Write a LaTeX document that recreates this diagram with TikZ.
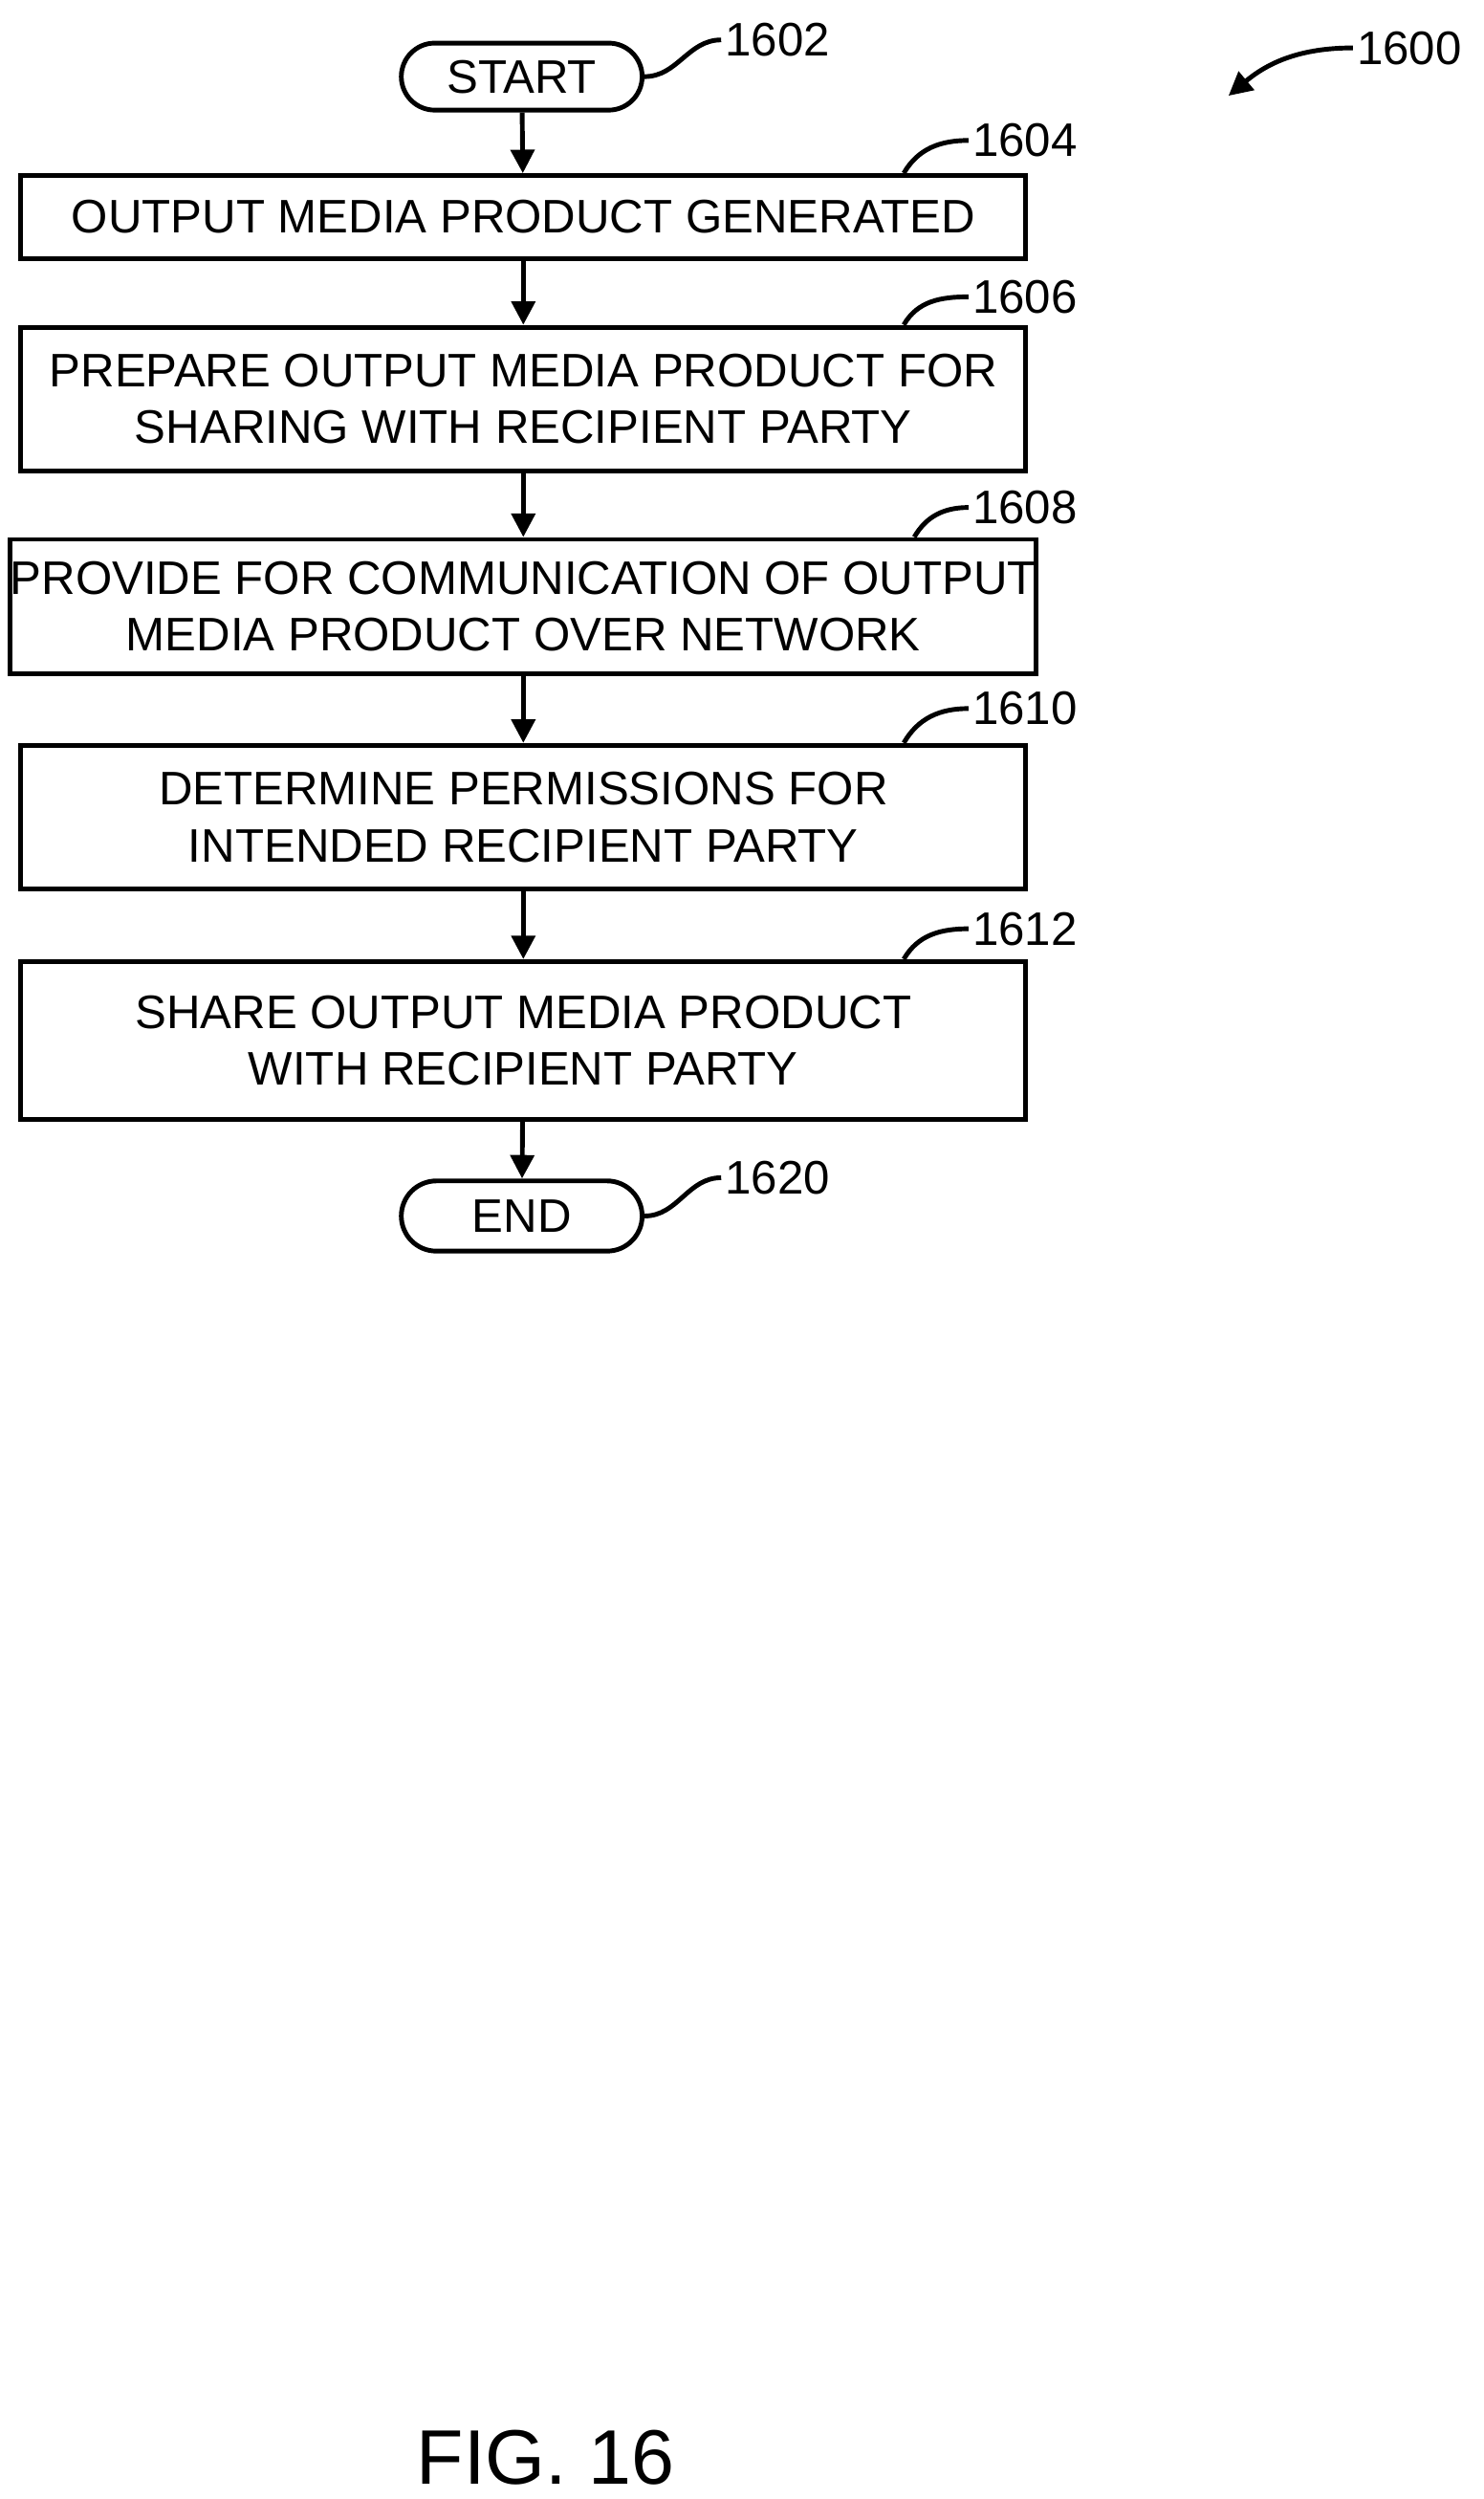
\documentclass[tikz,border=0pt]{standalone}
\usepackage{fontspec}
\setmainfont{Liberation Sans}
\usetikzlibrary{shapes.misc,arrows.meta}
\newlength\ux
\setlength\ux{0.1669mm}
\tikzset{
  stepbox/.style={draw, line width=1.4pt, minimum width=630\ux, align=center, font=\fontsize{14}{17}\selectfont, inner sep=0pt},
  term/.style={draw, line width=1.4pt, rounded rectangle, minimum width=165\ux, minimum height=42\ux, font=\fontsize{14}{17}\selectfont},
  ref/.style={font=\fontsize{14}{17}\selectfont, anchor=west, inner sep=1pt},
  flow/.style={line width=1.4pt, -{Triangle[length=7pt,width=7pt]}},
  lead/.style={line width=1.4pt}
}
\begin{document}
\begin{tikzpicture}[x=\ux, y=-\ux]
\useasboundingbox (0,0) rectangle (930,1566);
% terminals and steps
\node[term] (start) at (327,48) {START};
\node[stepbox, minimum height=52\ux] (s1604) at (328,136) {OUTPUT MEDIA PRODUCT GENERATED};
\node[stepbox, minimum height=90\ux] (s1606) at (328,250) {PREPARE OUTPUT MEDIA PRODUCT FOR\\SHARING WITH RECIPIENT PARTY};
\node[stepbox, minimum height=84\ux] (s1608) at (328,380) {PROVIDE FOR COMMUNICATION OF OUTPUT\\MEDIA PRODUCT OVER NETWORK};
\node[stepbox, minimum height=90\ux] (s1610) at (328,512) {DETERMINE PERMISSIONS FOR\\INTENDED RECIPIENT PARTY};
\node[stepbox, minimum height=99\ux] (s1612) at (328,652) {SHARE OUTPUT MEDIA PRODUCT\\WITH RECIPIENT PARTY};
\node[term, minimum height=44\ux] (end) at (327,762) {END};

% flow arrows
\draw[flow] (start) -- (s1604);
\draw[flow] (s1604) -- (s1606);
\draw[flow] (s1606) -- (s1608);
\draw[flow] (s1608) -- (s1610);
\draw[flow] (s1610) -- (s1612);
\draw[flow] (s1612) -- (end);

% reference numerals
\node[ref] (r1602) at (452,25) {1602};
\node[ref] (r1604) at (607,88) {1604};
\node[ref] (r1606) at (607,186) {1606};
\node[ref] (r1608) at (607,318) {1608};
\node[ref] (r1610) at (607,444) {1610};
\node[ref] (r1612) at (607,582) {1612};
\node[ref] (r1620) at (452,738) {1620};
\node[ref] (r1600) at (848,30) {1600};
\draw[lead] (start.east) to[out=0,in=180] (r1602.west);
\draw[lead] ([xshift=-78\ux]s1604.north east) to[out=60,in=180] (r1604.west);
\draw[lead] ([xshift=-78\ux]s1606.north east) to[out=60,in=180] (r1606.west);
\draw[lead] ([xshift=-78\ux]s1608.north east) to[out=60,in=180] (r1608.west);
\draw[lead] ([xshift=-78\ux]s1610.north east) to[out=60,in=180] (r1610.west);
\draw[lead] ([xshift=-78\ux]s1612.north east) to[out=60,in=180] (r1612.west);
\draw[lead] (end.east) to[out=0,in=180] (r1620.west);
\coordinate (p1600) at (770,60);
\draw[flow] (r1600.west) to[out=180,in=40] (p1600);

\node[font=\fontsize{23}{27}\selectfont] (fig) at (342,1540) {FIG. 16};
\end{tikzpicture}
\end{document}
